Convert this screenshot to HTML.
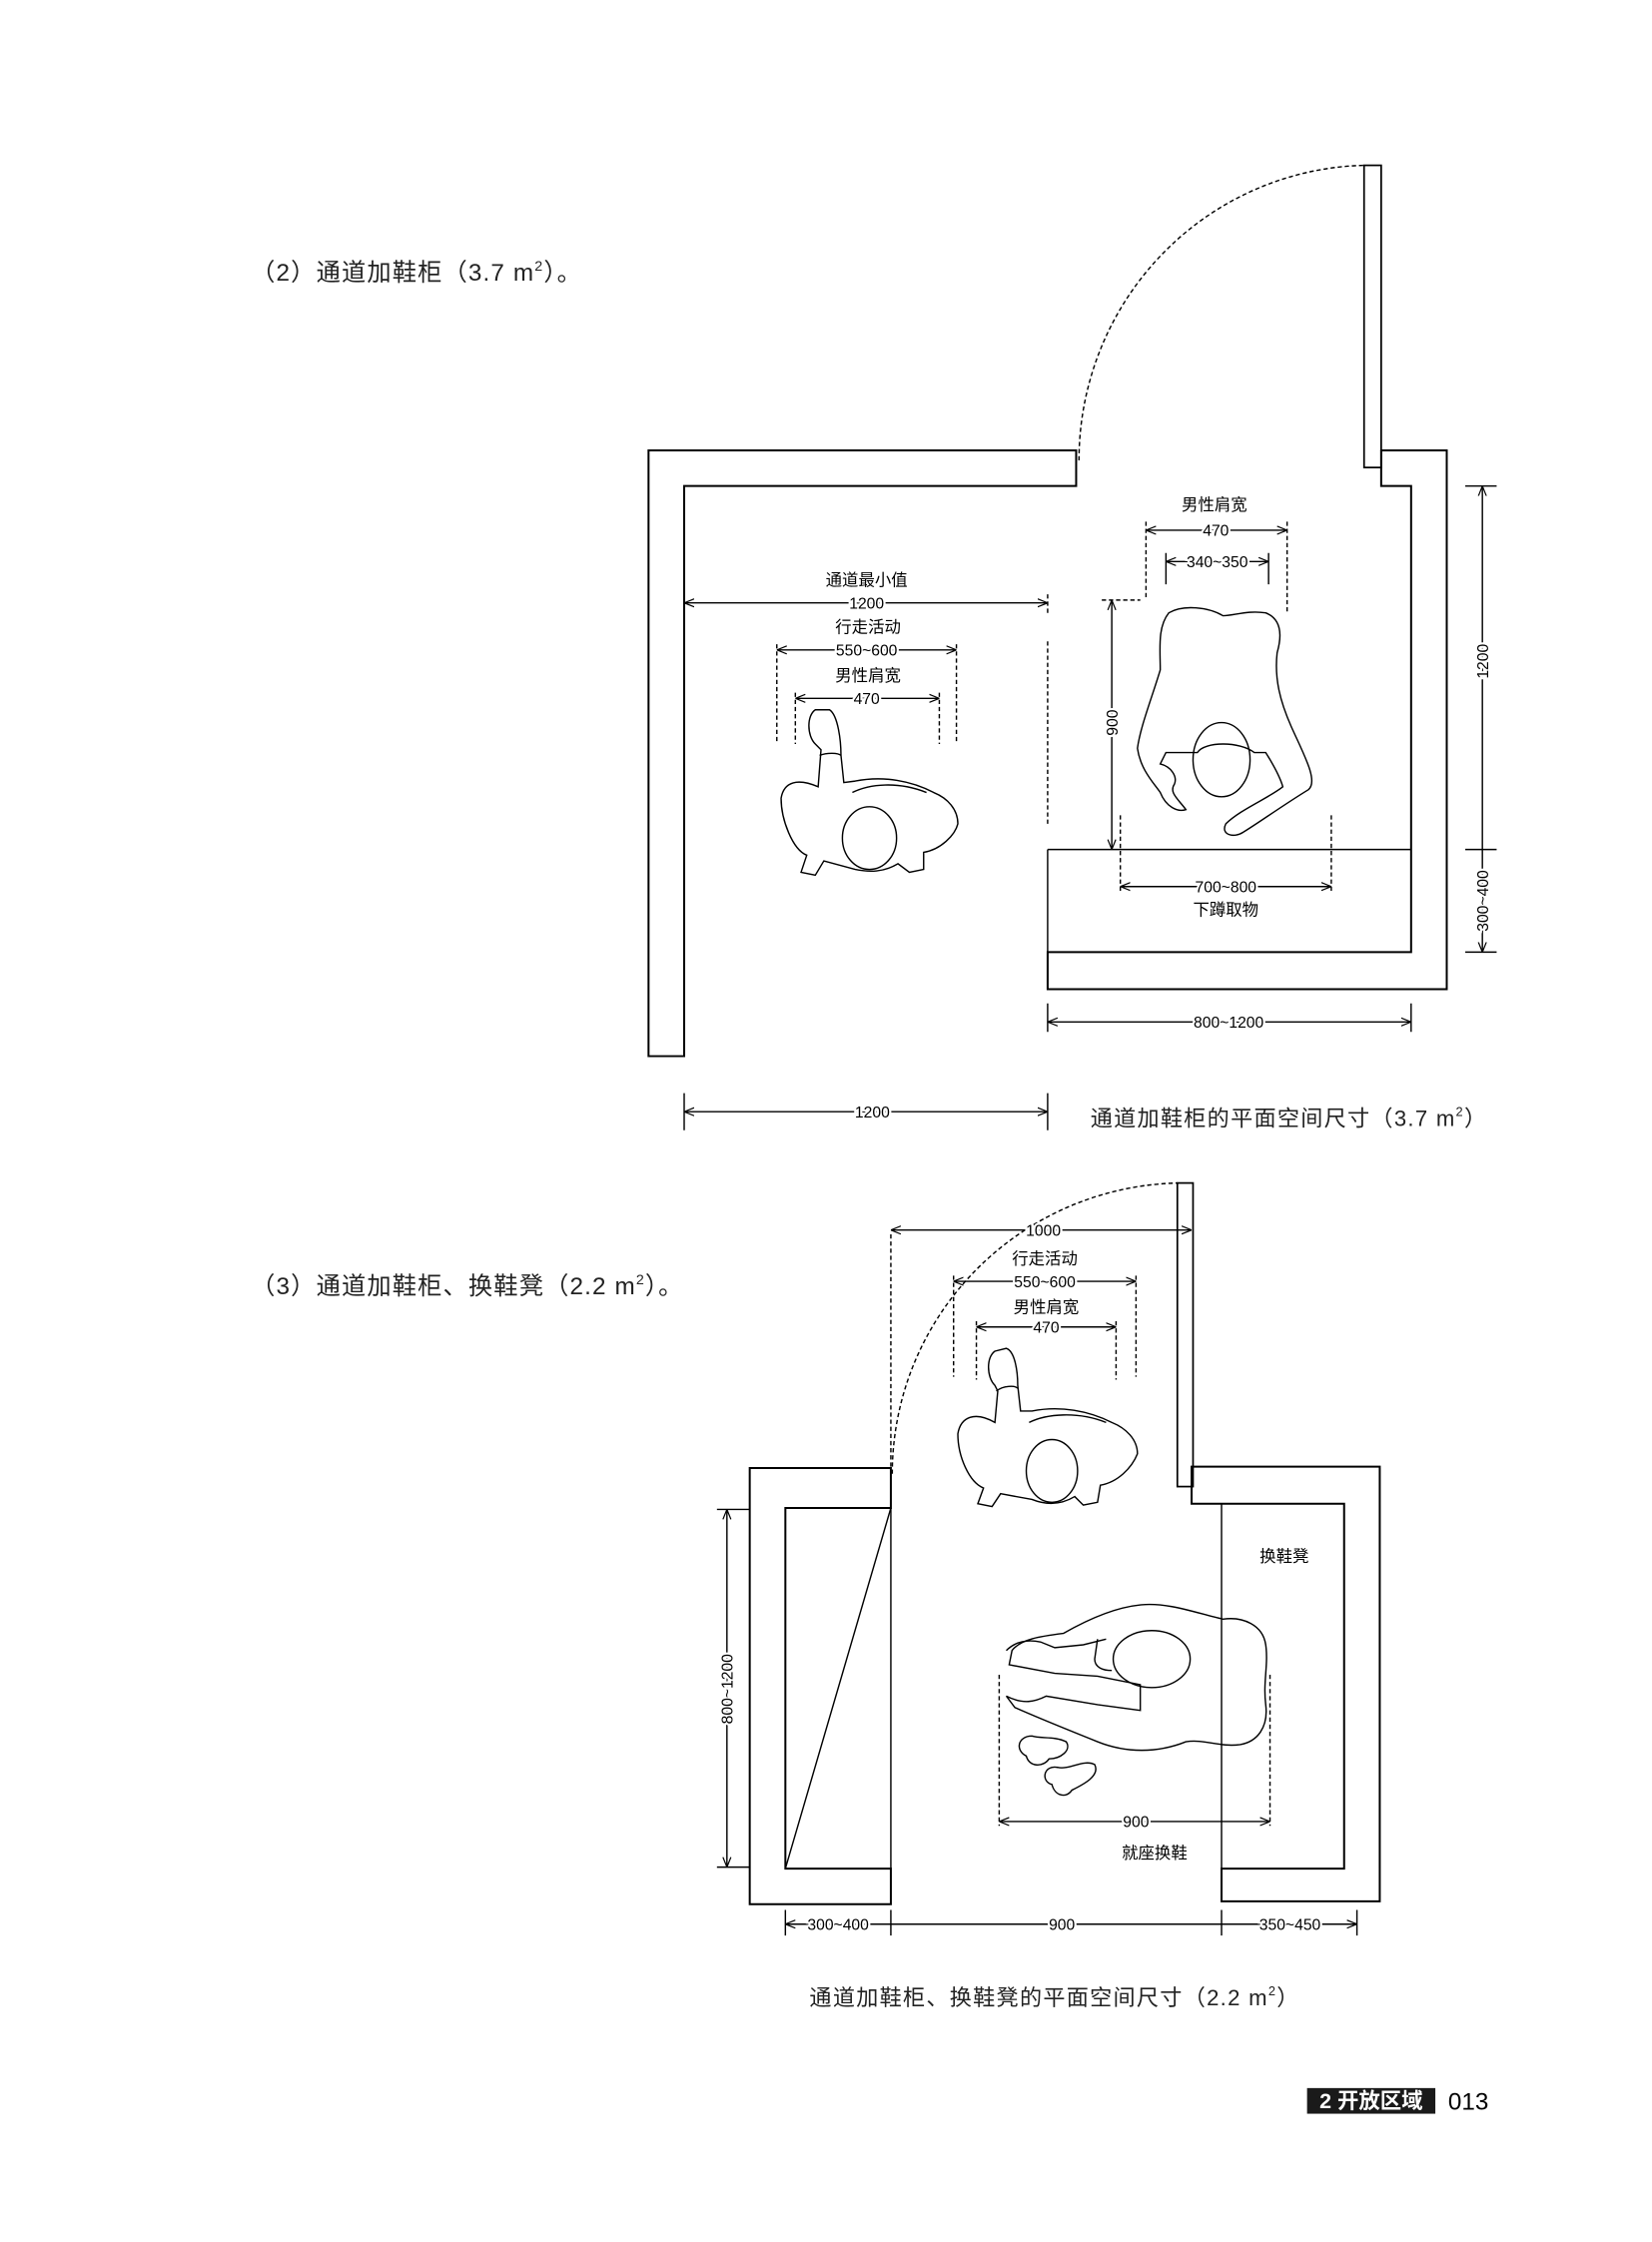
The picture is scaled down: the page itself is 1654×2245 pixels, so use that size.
<!DOCTYPE html>
<html><head><meta charset="utf-8"><style>
html,body{margin:0;padding:0;background:#fff;}
svg{display:block;}
text{font-family:"Liberation Sans","Noto Sans CJK SC",sans-serif;fill:#000;}
.d{font-size:11px;paint-order:stroke;stroke:#fff;stroke-width:3px;}
.l{font-size:11.5px;}
.t{font-size:17px;letter-spacing:0.8px;fill:#222;}
.c{font-size:15.5px;letter-spacing:0.9px;fill:#222;}
</style></head><body>
<svg width="1654" height="2245" viewBox="0 0 1159 1573" preserveAspectRatio="none" xmlns="http://www.w3.org/2000/svg">
<defs>
<marker id="a" viewBox="0 0 10 10" refX="10" refY="5" markerWidth="7" markerHeight="7" orient="auto-start-reverse" markerUnits="userSpaceOnUse"><path d="M0,1 L10,5 L0,9" fill="none" stroke="#000" stroke-width="1.2"/></marker>
</defs>
<g fill="none" stroke="#000" stroke-width="1">
<path d="M455,316 H755 V341 H480 V741 H455 Z" stroke-width="1.4"/>
<path d="M969,316 H1015 V694 H735 V668 H990 V341 H969 Z" stroke-width="1.4"/>
<rect x="957" y="116" width="12" height="212" stroke-width="1.2"/>
<path d="M757,323 A205,207 0 0 1 957,116" stroke-dasharray="3,2"/>
<path d="M735,596 H990 M735,596 V668"/>
<path d="M804,372 H903" marker-start="url(#a)" marker-end="url(#a)"/>
<path d="M804,366 V420 M903,366 V430" stroke-dasharray="3,2"/>
<path d="M818,394 H890" marker-start="url(#a)" marker-end="url(#a)"/>
<path d="M818,388 V410 M890,388 V410"/>
<path d="M780,421 V596" marker-start="url(#a)" marker-end="url(#a)"/>
<path d="M773,421 H800" stroke-dasharray="3,2"/>
<path d="M480,423 H735" marker-start="url(#a)" marker-end="url(#a)"/>
<path d="M735,417 V430 M735,450 V580" stroke-dasharray="3,2"/>
<path d="M545,456 H671" marker-start="url(#a)" marker-end="url(#a)"/>
<path d="M545,452 V520 M671,452 V520" stroke-dasharray="3,2"/>
<path d="M558,490 H659" marker-start="url(#a)" marker-end="url(#a)"/>
<path d="M558,486 V522 M659,486 V522" stroke-dasharray="3,2"/>
<path d="M786,622 H934" marker-start="url(#a)" marker-end="url(#a)"/>
<path d="M786,572 V625 M934,572 V625" stroke-dasharray="3,2"/>
<path d="M1040,341 V596 M1040,596 V668" marker-start="url(#a)" marker-end="url(#a)"/>
<path d="M1028,341 H1050 M1028,596 H1050 M1028,668 H1050"/>
<path d="M735,717 H990" marker-start="url(#a)" marker-end="url(#a)"/>
<path d="M735,704 V724 M990,704 V724"/>
<path d="M480,780 H735" marker-start="url(#a)" marker-end="url(#a)"/>
<path d="M480,767 V793 M735,767 V793"/>
<path d="M572,498 C566,502 566,516 572,522 L576,526 L574,552 C560,546 550,548 548,560 C548,575 556,596 566,600 L562,612 L572,614 L578,604 L600,610 C610,612 620,612 630,606 L638,612 L648,610 L648,598 C660,596 670,586 672,578 C672,568 665,560 655,556 C640,548 620,544 600,548 L592,549 L590,530 C590,520 588,502 582,498 Z"/>
<ellipse cx="610" cy="588" rx="19" ry="22"/>
<path d="M575,530 C580,528 588,528 590,530 M598,556 C610,550 630,548 650,556"/>
<path d="M820,430 C812,440 814,455 814,470 C808,490 800,510 798,525 C800,540 810,550 814,556 C818,566 826,570 832,568 C826,560 820,556 824,550 C826,545 822,538 814,536 L818,528 L840,528 C845,520 870,520 880,528 L888,528 C893,536 898,545 900,552 C890,560 870,568 860,578 C856,586 866,588 872,584 C882,578 900,565 918,554 C925,548 915,530 906,510 C898,492 894,476 896,458 C900,444 898,434 888,430 C875,428 866,432 858,432 C848,426 830,424 820,430 Z"/>
<ellipse cx="857" cy="533" rx="20" ry="26"/>
<path d="M526,1030 H625 V1058 H551 V1311 H625 V1336 H526 Z" stroke-width="1.4"/>
<path d="M551,1311 L625,1058"/>
<path d="M625,1058 V1311"/>
<path d="M836,1029 H968 V1334 H857 V1311 H943 V1055 H836 Z" stroke-width="1.4"/>
<path d="M857,1055 V1311"/>
<rect x="826" y="830" width="11" height="213" stroke-width="1.2"/>
<path d="M626,1034 A205,204 0 0 1 826,830" stroke-dasharray="3,2"/>
<path d="M625,863 H836" marker-start="url(#a)" marker-end="url(#a)"/>
<path d="M625,866 V1030" stroke-dasharray="3,2"/>
<path d="M669,899 H797" marker-start="url(#a)" marker-end="url(#a)"/>
<path d="M669,895 V966 M797,895 V966" stroke-dasharray="3,2"/>
<path d="M685,931 H783" marker-start="url(#a)" marker-end="url(#a)"/>
<path d="M685,927 V968 M783,927 V968" stroke-dasharray="3,2"/>
<path d="M510,1059 V1310" marker-start="url(#a)" marker-end="url(#a)"/>
<path d="M503,1059 H526 M503,1310 H526"/>
<path d="M551,1350 H625 M625,1350 H857 M857,1350 H952" marker-start="url(#a)" marker-end="url(#a)"/>
<path d="M551,1340 V1358 M625,1340 V1358 M857,1340 V1358 M952,1340 V1358"/>
<path d="M701,1278 H891" marker-start="url(#a)" marker-end="url(#a)"/>
<path d="M701,1175 V1281 M891,1175 V1281" stroke-dasharray="3,2"/>
<path d="M698,948 C692,952 692,966 698,972 L700,976 L698,998 C684,990 674,994 672,1006 C672,1022 680,1040 690,1044 L686,1055 L696,1057 L702,1048 L724,1052 C734,1056 744,1056 754,1050 L760,1056 L770,1054 L772,1042 C784,1040 794,1030 798,1020 C798,1010 790,1002 780,998 C764,990 744,986 724,990 L716,990 L714,972 C714,962 712,948 706,946 Z"/>
<ellipse cx="738" cy="1032" rx="18" ry="22"/>
<path d="M699,976 C704,972 712,972 714,974 M722,998 C734,992 756,990 776,998"/>
<path d="M710,1158 C716,1150 730,1148 746,1146 C760,1138 780,1128 800,1126 C820,1124 840,1132 858,1136 C872,1134 886,1140 888,1154 C890,1168 886,1180 888,1196 C890,1212 882,1222 870,1224 C856,1226 845,1220 832,1222 C812,1230 790,1230 770,1222 C750,1214 730,1206 712,1198 L706,1190 C718,1196 726,1194 734,1190 L770,1196 L800,1200 L800,1182 L770,1176 L740,1174 L708,1168 Z"/>
<path d="M706,1158 C712,1152 720,1150 730,1152 L740,1156 L760,1154 L776,1150"/>
<ellipse cx="808" cy="1164" rx="27" ry="20"/>
<path d="M770,1150 L768,1164 C768,1170 774,1172 780,1172"/>
<path d="M720,1232 C712,1228 714,1218 724,1218 C730,1220 740,1218 748,1222 C752,1228 744,1234 736,1234 C732,1240 722,1240 720,1232 Z"/>
<path d="M738,1252 C730,1250 732,1238 742,1240 C750,1242 760,1234 768,1238 C772,1246 760,1252 752,1256 C748,1262 740,1260 738,1252 Z"/>
</g>
<text class="t" x="176" y="197">（2）通道加鞋柜（3.7 m<tspan font-size="10" dy="-7">2</tspan><tspan dy="7">）。</tspan></text>
<text class="t" x="176" y="908">（3）通道加鞋柜、换鞋凳（2.2 m<tspan font-size="10" dy="-7">2</tspan><tspan dy="7">）。</tspan></text>
<g text-anchor="middle">
<text class="l" x="852" y="358">男性肩宽</text>
<text class="d" x="853" y="376">470</text>
<text class="d" x="854" y="398">340~350</text>
<text class="d" x="780" y="507" transform="rotate(-90 780 507)" dy="4">900</text>
<text class="l" x="608" y="411">通道最小值</text>
<text class="d" x="608" y="427">1200</text>
<text class="l" x="609" y="444">行走活动</text>
<text class="d" x="608" y="460">550~600</text>
<text class="l" x="609" y="478">男性肩宽</text>
<text class="d" x="608" y="494">470</text>
<text class="d" x="860" y="626">700~800</text>
<text class="l" x="860" y="642">下蹲取物</text>
<text class="d" x="1040" y="464" transform="rotate(-90 1040 464)" dy="4">1200</text>
<text class="d" x="1040" y="632" transform="rotate(-90 1040 632)" dy="4">300~400</text>
<text class="d" x="862" y="721">800~1200</text>
<text class="d" x="612" y="784">1200</text>
<text class="d" x="732" y="867">1000</text>
<text class="l" x="733" y="887">行走活动</text>
<text class="d" x="733" y="903">550~600</text>
<text class="l" x="734" y="921">男性肩宽</text>
<text class="d" x="734" y="935">470</text>
<text class="d" x="510" y="1185" transform="rotate(-90 510 1185)" dy="4">800~1200</text>
<text class="d" x="588" y="1354">300~400</text>
<text class="d" x="745" y="1354">900</text>
<text class="d" x="905" y="1354">350~450</text>
<text class="d" x="797" y="1282">900</text>
<text class="l" x="810" y="1304">就座换鞋</text>
<text class="l" x="901" y="1096">换鞋凳</text>
</g>
<text class="c" x="765" y="790">通道加鞋柜的平面空间尺寸（3.7 m<tspan font-size="9" dy="-7">2</tspan><tspan dy="7">）</tspan></text>
<text class="c" x="740" y="1407" text-anchor="middle">通道加鞋柜、换鞋凳的平面空间尺寸（2.2 m<tspan font-size="9" dy="-7">2</tspan><tspan dy="7">）</tspan></text>
<rect x="917" y="1465" width="90" height="18" fill="#1a1a1a"/>
<text x="962" y="1479" font-size="15" font-weight="bold" text-anchor="middle" style="fill:#fff">2 开放区域</text>
<text x="1016" y="1480" font-size="17">013</text>
</svg>
</body></html>
